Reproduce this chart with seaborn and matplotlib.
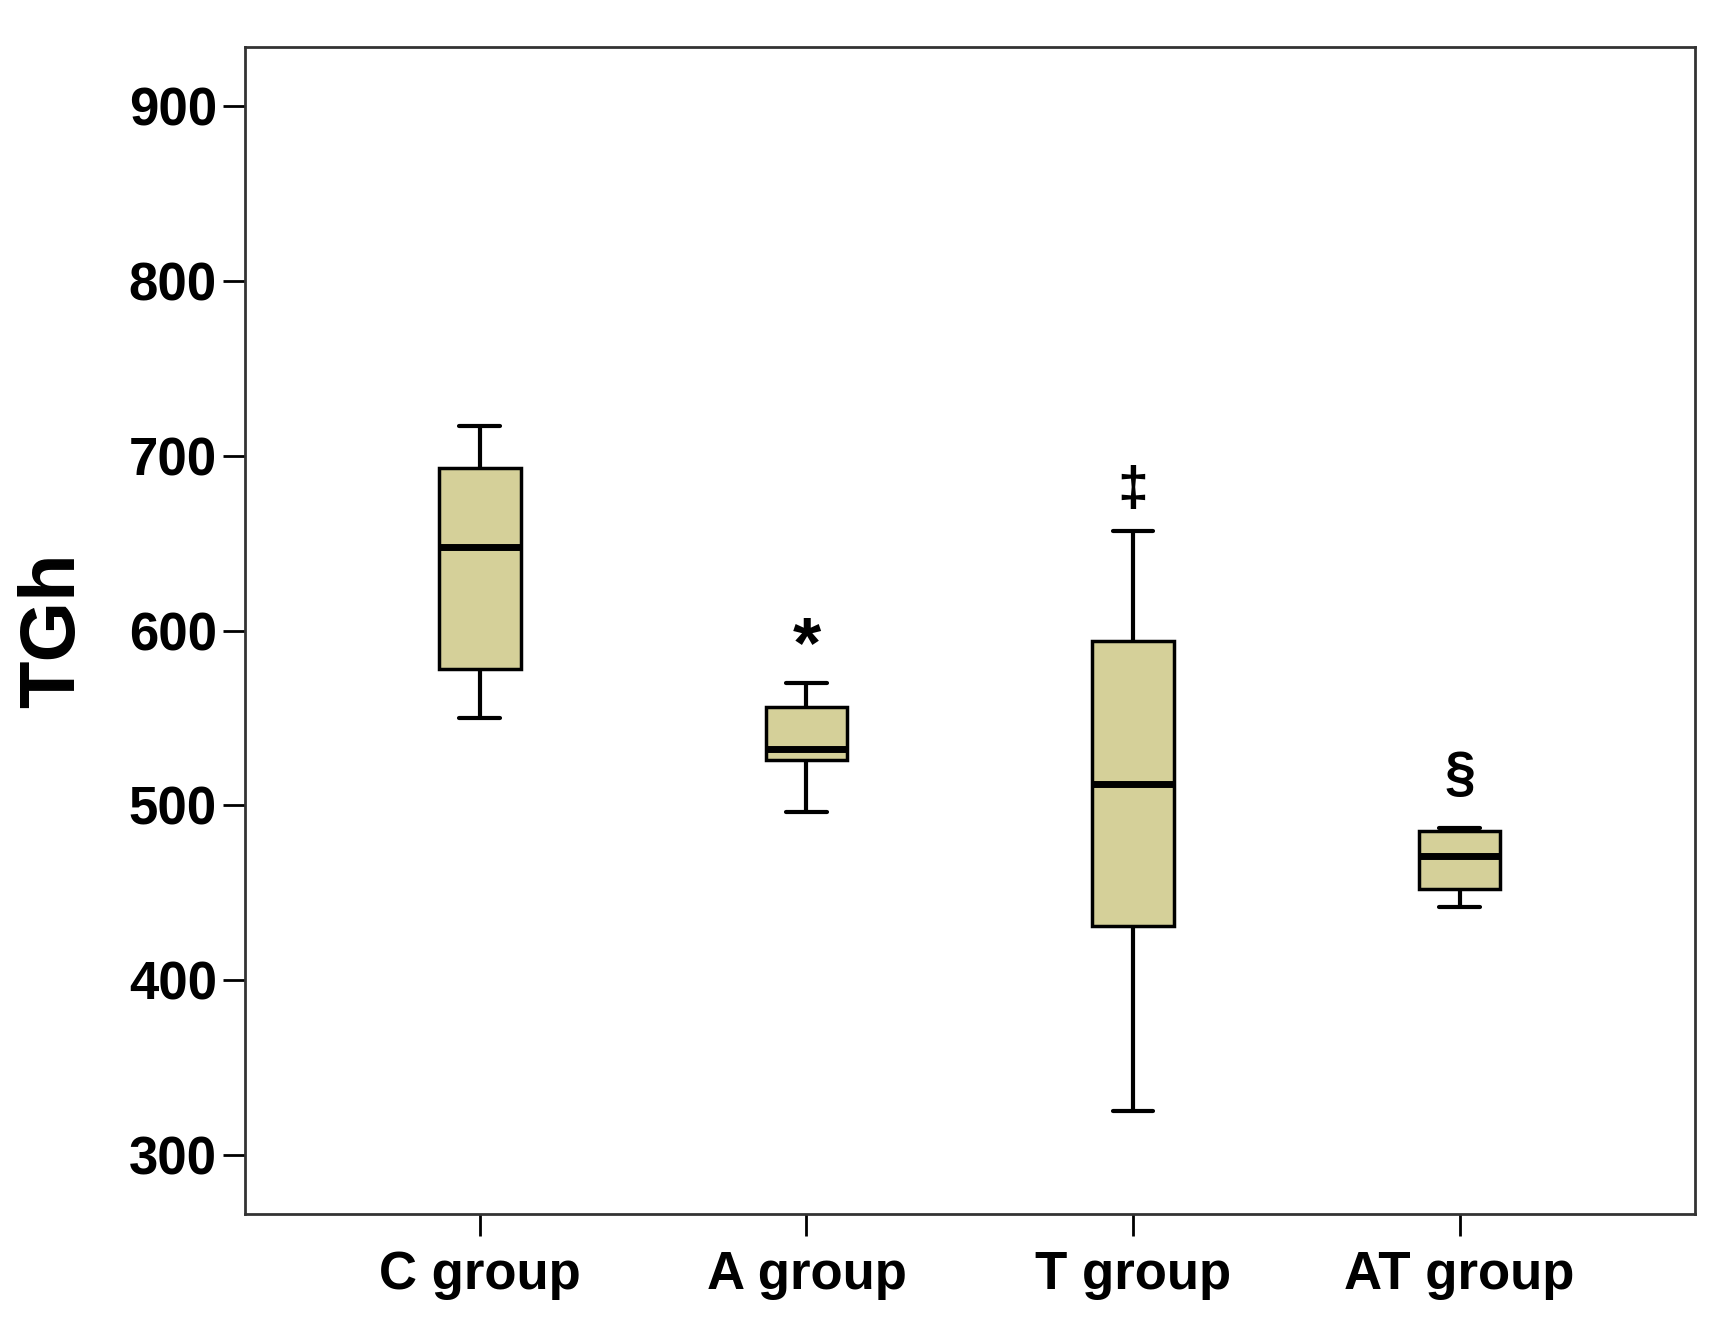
import numpy as np
import pandas as pd
import matplotlib
matplotlib.use('Agg')
import matplotlib.pyplot as plt
import seaborn as sns

# five-number summaries (min, q1, median, q3, max)
groups = ['C group', 'A group', 'T group', 'AT group']
whisk_low = [550, 496, 325, 442]
q1 = [578, 526, 431, 452]
median = [648, 532, 512, 471]
q3 = [693, 556, 594, 485]
whisk_high = [717, 570, 657, 487]

marks = ['', '*', '‡', '§']
mark_y = [0, 590, 680, 517]

yticks = [300, 400, 500, 600, 700, 800, 900]

rows = []
for i, g in enumerate(groups):
    for v in [whisk_low[i], q1[i], median[i], q3[i], whisk_high[i]]:
        rows.append({'group': g, 'TGh': v})
df = pd.DataFrame(rows)

sns.set_style('white')
plt.rcParams['font.family'] = ['Liberation Sans', 'DejaVu Sans']
plt.rcParams['font.weight'] = 'bold'
plt.rcParams['text.color'] = 'black'
plt.rcParams['axes.labelcolor'] = 'black'
plt.rcParams['xtick.color'] = 'black'
plt.rcParams['ytick.color'] = 'black'

fig = plt.figure(figsize=(17.36, 13.36), dpi=100)
ax = fig.add_axes([0.1410, 0.0913, 0.8352, 0.8735])

sns.boxplot(data=df, x='group', y='TGh', order=groups, color='#D5D099',
            saturation=1, width=0.25, whis=(0, 100), linecolor='black',
            linewidth=2.5, showfliers=False, ax=ax,
            medianprops=dict(linewidth=5, color='black'),
            whiskerprops=dict(linewidth=3),
            capprops=dict(linewidth=3))

for i, m in enumerate(marks):
    if m:
        size = 52 if m == '*' else 40
        ax.text(i, mark_y[i], m, ha='center', va='center', fontsize=size,
                fontweight='bold', color='black')

ax.set_xlim(-0.72, 3.72)
ax.set_ylim(266, 934)
ax.set_yticks(yticks)
ax.set_xlabel('')
ax.set_ylabel('TGh', fontsize=56, fontweight='bold', labelpad=28)

for s in ax.spines.values():
    s.set_color('#333333')
    s.set_linewidth(2)

ax.tick_params(axis='both', direction='out', length=16, width=2,
               color='black', labelcolor='black', labelsize=38,
               left=True, bottom=True)
ax.tick_params(axis='x', pad=10)
ax.tick_params(axis='y', pad=4)
for lab in ax.get_xticklabels() + ax.get_yticklabels():
    lab.set_fontweight('bold')

fig.savefig('out.png', dpi=100, facecolor='white')
